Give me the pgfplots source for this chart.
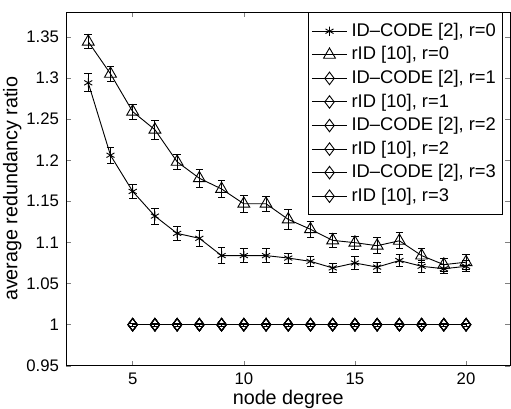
\documentclass[border=0pt]{standalone}
\usepackage{pgfplots}
\pgfplotsset{compat=1.18}
\usepackage{fontspec}
\setmainfont{Liberation Sans}

\begin{document}
\begin{tikzpicture}
\begin{axis}[
  scale only axis, width=220.5pt, height=175.5pt,
  xmin=2, xmax=22, ymin=0.95, ymax=1.38,
  xtick={5,10,15,20},
  ytick={0.95,1,1.05,1.1,1.15,1.2,1.25,1.3,1.35},
  yticklabels={0.95,1,1.05,1.1,1.15,1.2,1.25,1.3,1.35},
  tick align=inside, major tick length=2.5pt,
  xtick pos=both, ytick pos=both,
  /pgf/number format/assume math mode=true,
  tick label style={font=\fontsize{8.3}{9}\selectfont},
  label style={font=\fontsize{9.8}{11}\selectfont},
  xlabel={node degree}, ylabel={average redundancy ratio},
  xlabel style={inner sep=0pt, yshift=1pt},
  ylabel style={inner sep=1.5pt, yshift=-2.6pt},
  axis line style={line width=0.5pt},
  every axis plot/.append style={line width=0.45pt, mark options={solid}},
  error bars/error bar style={line width=0.45pt},
  error bars/error mark options={rotate=90, mark size=1.9pt, line width=0.45pt},
  legend cell align=left,
  legend style={at={(1,1)}, anchor=north east, xshift=-3.5pt,
    draw=black, fill=white, line width=0.5pt,
    font=\fontsize{9.1}{10}\selectfont, row sep=-0.4pt, inner xsep=1.5pt, inner ysep=3.2pt},
  legend image code/.code={\draw[mark repeat=2,mark phase=2,#1] plot coordinates {(0pt,0pt) (8.75pt,0pt) (17.5pt,0pt)};},
]
% ID-CODE [2], r=0
\addplot[black, mark=asterisk, mark size=2.3pt, error bars/.cd, y dir=both, y explicit] coordinates {
(3,1.294) +- (0,0.011) (4,1.206) +- (0,0.0098) (5,1.162) +- (0,0.0086) (6,1.132) +- (0,0.0096)
(7,1.111) +- (0,0.0088) (8,1.105) +- (0,0.0098) (9,1.084) +- (0,0.010) (10,1.084) +- (0,0.0082)
(11,1.084) +- (0,0.0088) (12,1.081) +- (0,0.006) (13,1.077) +- (0,0.006) (14,1.069) +- (0,0.0057)
(15,1.075) +- (0,0.0078) (16,1.070) +- (0,0.006) (17,1.078) +- (0,0.0076) (18,1.071) +- (0,0.007)
(19,1.068) +- (0,0.0055) (20,1.071) +- (0,0.0067)};
% rID [10], r=0
\addplot[black, mark=triangle, mark size=3.4pt, error bars/.cd, y dir=both, y explicit] coordinates {
(3,1.344) +- (0,0.0082) (4,1.305) +- (0,0.0092) (5,1.259) +- (0,0.009) (6,1.237) +- (0,0.0117)
(7,1.198) +- (0,0.009) (8,1.178) +- (0,0.011) (9,1.165) +- (0,0.010) (10,1.147) +- (0,0.010)
(11,1.147) +- (0,0.009) (12,1.128) +- (0,0.0123) (13,1.116) +- (0,0.010) (14,1.1025) +- (0,0.0088)
(15,1.0997) +- (0,0.008) (16,1.096) +- (0,0.010) (17,1.102) +- (0,0.0098) (18,1.084) +- (0,0.0084)
(19,1.073) +- (0,0.0078) (20,1.076) +- (0,0.0088)};
% r = 1..3 series, all at 1
\addplot[black, mark=diamond, mark size=3.1pt, error bars/.cd, y dir=both, y explicit] coordinates {
(5,1) +- (0,0.002) (6,1) +- (0,0.002) (7,1) +- (0,0.002) (8,1) +- (0,0.002) (9,1) +- (0,0.002)
(10,1) +- (0,0.002) (11,1) +- (0,0.002) (12,1) +- (0,0.002) (13,1) +- (0,0.002) (14,1) +- (0,0.002)
(15,1) +- (0,0.002) (16,1) +- (0,0.002) (17,1) +- (0,0.002) (18,1) +- (0,0.002) (19,1) +- (0,0.002) (20,1) +- (0,0.002)};
\addplot[black, mark=diamond, mark size=3.1pt] coordinates {
(5,1) (6,1) (7,1) (8,1) (9,1) (10,1) (11,1) (12,1) (13,1) (14,1) (15,1) (16,1) (17,1) (18,1) (19,1) (20,1)};
\addplot[black, mark=diamond, mark size=3.1pt] coordinates {
(5,1) (6,1) (7,1) (8,1) (9,1) (10,1) (11,1) (12,1) (13,1) (14,1) (15,1) (16,1) (17,1) (18,1) (19,1) (20,1)};
\addplot[black, mark=diamond, mark size=3.1pt] coordinates {
(5,1) (6,1) (7,1) (8,1) (9,1) (10,1) (11,1) (12,1) (13,1) (14,1) (15,1) (16,1) (17,1) (18,1) (19,1) (20,1)};
\addplot[black, mark=diamond, mark size=3.1pt] coordinates {
(5,1) (6,1) (7,1) (8,1) (9,1) (10,1) (11,1) (12,1) (13,1) (14,1) (15,1) (16,1) (17,1) (18,1) (19,1) (20,1)};
\addplot[black, mark=diamond, mark size=3.1pt] coordinates {
(5,1) (6,1) (7,1) (8,1) (9,1) (10,1) (11,1) (12,1) (13,1) (14,1) (15,1) (16,1) (17,1) (18,1) (19,1) (20,1)};
\legend{ID--CODE [2]{,} r=0, rID [10]{,} r=0, ID--CODE [2]{,} r=1, rID [10]{,} r=1,
  ID--CODE [2]{,} r=2, rID [10]{,} r=2, ID--CODE [2]{,} r=3, rID [10]{,} r=3}
\end{axis}
% white margin above the axis, as in the figure
\path (current axis.north east) ++(0,6pt);
\end{tikzpicture}
\end{document}
